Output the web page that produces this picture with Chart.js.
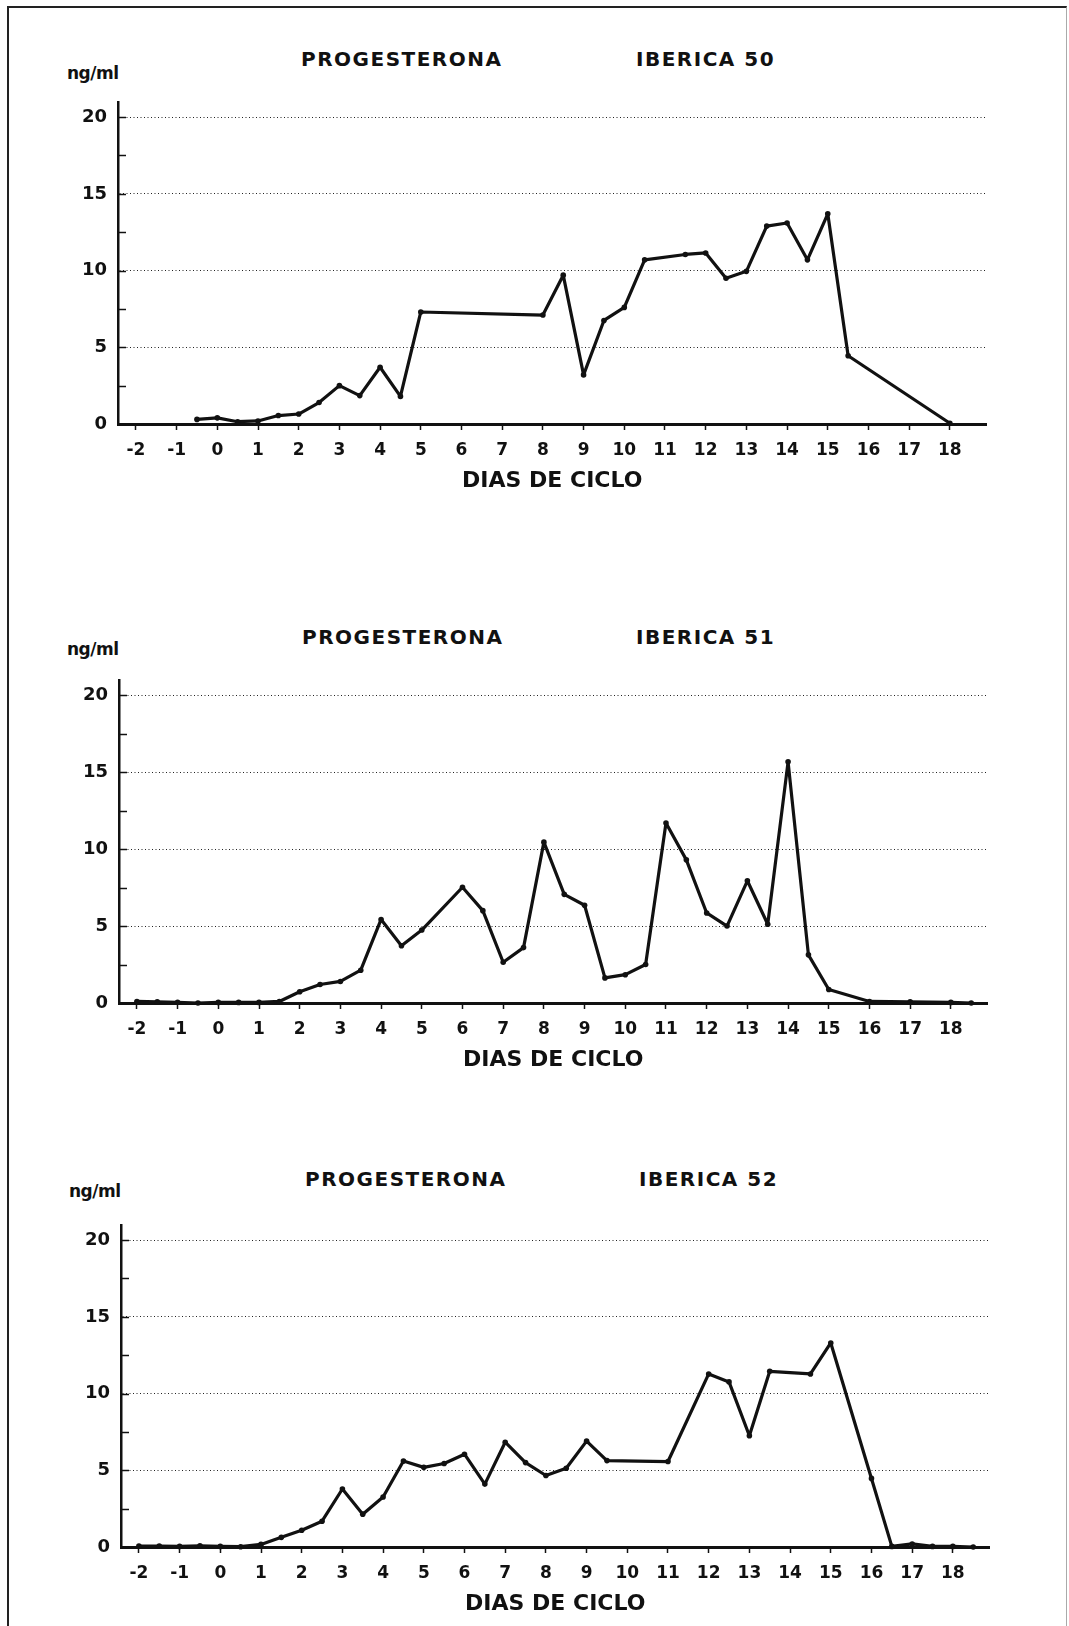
<!DOCTYPE html>
<html>
<head>
<meta charset="utf-8">
<title>Progesterona - Iberica 50, 51, 52</title>
<script src="https://cdn.jsdelivr.net/npm/chart.js@4.4.0/dist/chart.umd.min.js"></script>
<style>
  body { margin: 0; background: #fff; }
  #page { position: relative; width: 1069px; height: 1626px; overflow: hidden; background: #fff;
          font-family: "DejaVu Sans", sans-serif; font-weight: bold; color: #111; }
  .frame { position: absolute; left: 7px; top: 6px; width: 1057px; height: 1700px;
           border-left: 2px solid #222; border-top: 2px solid #222; border-right: 1px solid #aaa; }
  .lbl { position: absolute; white-space: nowrap; line-height: 1; }
  .title { font-size: 20px; letter-spacing: 1.5px; }
  .unit { font-size: 17px; letter-spacing: -0.5px; }
  canvas { position: absolute; left: 0; }
</style>
</head>
<body>
<div id="page">
  <div class="frame"></div>

  <div class="lbl title" style="left:301px; top:49px;">PROGESTERONA</div>
  <div class="lbl title" style="left:636px; top:49px;">IBERICA 50</div>
  <div class="lbl unit" style="left:67px; top:65px;">ng/ml</div>
  <canvas id="chart50" width="1069" height="414" style="top:80px;"></canvas>

  <div class="lbl title" style="left:302px; top:627px;">PROGESTERONA</div>
  <div class="lbl title" style="left:636px; top:627px;">IBERICA 51</div>
  <div class="lbl unit" style="left:67px; top:641px;">ng/ml</div>
  <canvas id="chart51" width="1069" height="415" style="top:658px;"></canvas>

  <div class="lbl title" style="left:305px; top:1169px;">PROGESTERONA</div>
  <div class="lbl title" style="left:639px; top:1169px;">IBERICA 52</div>
  <div class="lbl unit" style="left:69px; top:1183px;">ng/ml</div>
  <canvas id="chart52" width="1069" height="414" style="top:1203px;"></canvas>
</div>

<script>
// tick values
const xTicks = [-2, -1, 0, 1, 2, 3, 4, 5, 6, 7, 8, 9, 10, 11, 12, 13, 14, 15, 16, 17, 18];
const yTicks = [0, 2.5, 5, 7.5, 10, 12.5, 15, 17.5, 20];
const xTitle = 'DIAS DE CICLO';

// Iberica 50
const days50 = [-0.5, 0, 0.5, 1, 1.5, 2, 2.5, 3, 3.5, 4, 4.5, 5, 8, 8.5, 9, 9.5, 10, 10.5, 11.5, 12, 12.5, 13, 13.5, 14, 14.5, 15, 15.5, 18];
const prog50 = [0.3, 0.4, 0.15, 0.2, 0.55, 0.65, 1.4, 2.5, 1.85, 3.7, 1.8, 7.3, 7.1, 9.7, 3.2, 6.75, 7.6, 10.7, 11.05, 11.15, 9.5, 9.95, 12.9, 13.1, 10.7, 13.7, 4.45, 0.05];

// Iberica 51
const days51 = [-2, -1.5, -1, -0.5, 0, 0.5, 1, 1.5, 2, 2.5, 3, 3.5, 4, 4.5, 5, 6, 6.5, 7, 7.5, 8, 8.5, 9, 9.5, 10, 10.5, 11, 11.5, 12, 12.5, 13, 13.5, 14, 14.5, 15, 16, 17, 18, 18.5];
const prog51 = [0.1, 0.08, 0.05, 0, 0.04, 0.04, 0.04, 0.1, 0.73, 1.2, 1.4, 2.13, 5.43, 3.72, 4.74, 7.52, 6.0, 2.65, 3.6, 10.45, 7.06, 6.35, 1.63, 1.84, 2.5, 11.7, 9.3, 5.85, 5.0, 7.94, 5.12, 15.67, 3.13, 0.88, 0.1, 0.08, 0.04, 0];

// Iberica 52
const days52 = [-2, -1.5, -1, -0.5, 0, 0.5, 1, 1.5, 2, 2.5, 3, 3.5, 4, 4.5, 5, 5.5, 6, 6.5, 7, 7.5, 8, 8.5, 9, 9.5, 11, 12, 12.5, 13, 13.5, 14.5, 15, 16, 16.5, 17, 17.5, 18, 18.5];
const prog52 = [0.06, 0.06, 0.04, 0.08, 0.04, 0.02, 0.17, 0.63, 1.09, 1.68, 3.78, 2.14, 3.26, 5.6, 5.19, 5.44, 6.05, 4.1, 6.83, 5.5, 4.66, 5.13, 6.9, 5.63, 5.57, 11.28, 10.76, 7.25, 11.45, 11.28, 13.3, 4.47, 0.04, 0.2, 0.04, 0.04, 0];

const FONT = '"DejaVu Sans", sans-serif';

// short inward tick marks on the y axis (every 2.5)
const yTickMarks = {
  id: 'yTickMarks',
  afterDraw(chart) {
    const { ctx, chartArea, scales } = chart;
    ctx.save();
    ctx.setLineDash([]);
    ctx.strokeStyle = '#111';
    ctx.lineWidth = 1.5;
    yTicks.forEach(v => {
      const py = Math.round(scales.y.getPixelForValue(v)) + 0.5;
      ctx.beginPath();
      ctx.moveTo(chartArea.left, py);
      ctx.lineTo(chartArea.left + 8, py);
      ctx.stroke();
    });
    ctx.restore();
  }
};

function makeChart(id, days, values, axisLeft, padRight) {
  const ctx = document.getElementById(id).getContext('2d');
  return new Chart(ctx, {
    type: 'line',
    data: {
      datasets: [{
        data: days.map((d, i) => ({ x: d, y: values[i] })),
        borderColor: '#111',
        borderWidth: 3.2,
        borderJoinStyle: 'round',
        borderCapStyle: 'round',
        backgroundColor: '#111',
        pointRadius: 2.8,
        pointHoverRadius: 2.8,
        pointBorderWidth: 0,
        tension: 0,
        fill: false,
        clip: false
      }]
    },
    options: {
      responsive: false,
      animation: false,
      layout: { padding: { top: 10, right: padRight, bottom: 0, left: 0 } },
      plugins: { legend: { display: false }, tooltip: { enabled: false } },
      scales: {
        x: {
          type: 'linear',
          min: -2.44,
          max: 18.9,
          afterBuildTicks: s => { s.ticks = xTicks.map(v => ({ value: v })); },
          afterFit: s => { s.height = 70; },
          ticks: {
            padding: 10,
            color: '#111',
            font: { family: FONT, size: 17, weight: 'bold' },
            callback: v => String(v)
          },
          grid: {
            drawOnChartArea: false,
            drawTicks: true,
            tickLength: 6,
            tickWidth: 1.5,
            tickColor: '#111'
          },
          border: { display: true, color: '#111', width: 3 },
          title: {
            display: true,
            text: xTitle,
            color: '#111',
            padding: 0,
            font: { family: FONT, size: 22, weight: 'bold' }
          }
        },
        y: {
          min: 0,
          max: 21,
          afterBuildTicks: s => { s.ticks = yTicks.map(v => ({ value: v })); },
          afterFit: s => { s.width = axisLeft; },
          ticks: {
            padding: 11,
            color: '#111',
            font: { family: FONT, size: 18, weight: 'bold' },
            callback: v => (v % 5 === 0 ? String(v) : '')
          },
          grid: {
            drawTicks: false,
            lineWidth: 1,
            color: c => (c.tick && c.tick.value % 5 === 0 && c.tick.value > 0 ? '#222' : 'rgba(0,0,0,0)')
          },
          // in v4 border.dash styles the grid lines: fine dots
          border: { display: true, color: '#111', width: 2.5, dash: [1, 2.5] }
        }
      }
    },
    plugins: [yTickMarks]
  });
}

makeChart('chart50', days50, prog50, 118, 82.5);
makeChart('chart51', days51, prog51, 119, 81.5);
makeChart('chart52', days52, prog52, 121, 79.5);
</script>
</body>
</html>
